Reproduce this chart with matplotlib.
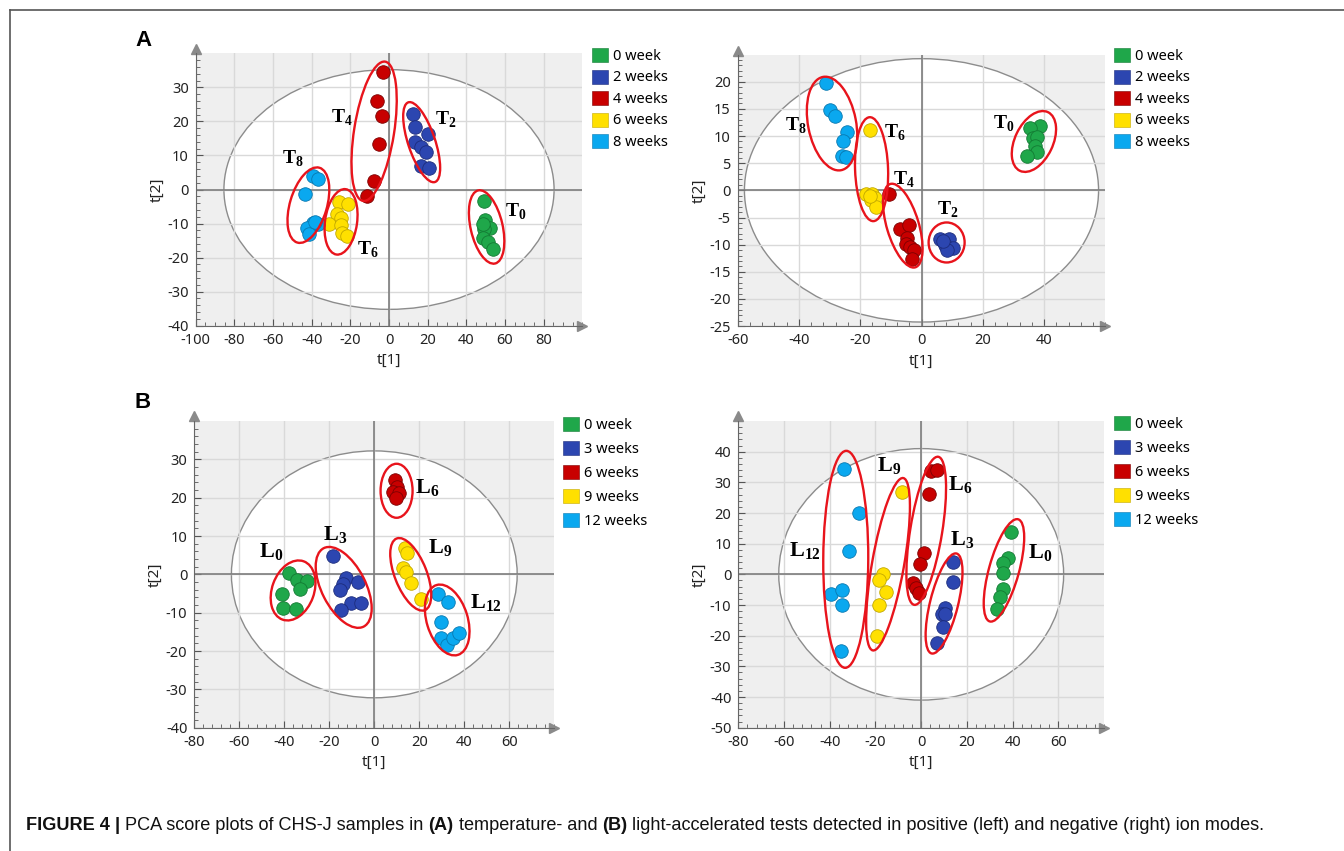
# PCA score plots, temperature (A) and light (B) accelerated tests
# values read off the SIMCA screenshots by eye, so they are approximate

import numpy as np
import matplotlib
matplotlib.use("Agg")
import matplotlib.pyplot as plt
import matplotlib.transforms as mtransforms
from matplotlib.patches import Ellipse, Patch
from matplotlib.ticker import AutoMinorLocator

plt.rcParams['axes.unicode_minus'] = False
plt.rcParams['font.family'] = ['Noto Sans', 'DejaVu Sans']
plt.rcParams['mathtext.fontset'] = 'custom'
plt.rcParams['mathtext.rm'] = 'Liberation Serif'
plt.rcParams['mathtext.bf'] = 'Liberation Serif:bold'

# group colours (same order as the legend)
colors = ["#1fa74a", "#2c46b0", "#c80000", "#ffe000", "#0aa8ef"]
edge_colors = ["#137a33", "#1c2c7c", "#7c0000", "#c2a800", "#0878b0"]

temp_weeks = ["0 week", "2 weeks", "4 weeks", "6 weeks", "8 weeks"]
light_weeks = ["0 week", "3 weeks", "6 weeks", "9 weeks", "12 weeks"]

# (A) temperature test, positive ion mode
temp_pos_x = [
    [49.1, 49.8, 52.1, 49.3, 48.8, 51.0, 54.0, 48.4],
    [12.6, 13.6, 20.0, 13.6, 16.4, 19.3, 16.4, 20.7],
    [-3.3, -6.0, -3.8, -5.2, -7.6, -11.6],
    [-25.9, -21.4, -27.1, -24.8, -30.9, -25.0, -24.5, -21.6],
    [-39.5, -36.9, -43.3, -36.9, -39.5, -42.2, -41.2, -38.3],
]
temp_pos_y = [
    [-3.4, -8.9, -11.3, -11.7, -14.3, -15.5, -17.5, -10.1],
    [22.1, 18.4, 16.4, 13.9, 12.6, 11.1, 7.0, 6.3],
    [34.4, 26.1, 21.7, 13.5, 2.5, -1.8],
    [-3.6, -4.3, -7.1, -8.5, -10.1, -10.3, -12.7, -13.8],
    [4.1, 3.1, -1.4, -10.1, -9.9, -11.4, -13.1, -9.6],
]

# (A) temperature test, negative ion mode
temp_neg_x = [
    [38.8, 35.4, 36.5, 37.8, 37.2, 37.6, 34.3],
    [6.0, 9.1, 7.6, 10.2, 8.2, 7.1],
    [-10.6, -7.0, -4.0, -4.6, -5.1, -3.7, -2.5, -3.1],
    [-16.7, -18.0, -16.0, -16.6, -15.1, -15.0, -16.8],
    [-31.3, -29.9, -28.2, -24.3, -25.5, -26.1, -24.6],
]
temp_neg_y = [
    [11.8, 11.4, 9.6, 9.8, 8.2, 7.1, 6.3],
    [-9.0, -9.0, -10.1, -10.6, -10.9, -9.3],
    [-0.7, -7.1, -6.4, -8.8, -9.9, -10.4, -11.0, -12.6],
    [11.1, -0.7, -0.6, -1.8, -1.5, -3.0, -1.0],
    [19.7, 14.8, 13.7, 10.7, 9.1, 6.4, 6.1],
]

# (B) light test, positive ion mode
light_pos_x = [
    [-37.8, -34.5, -29.8, -33.0, -41.0, -40.4, -35.0],
    [-18.2, -12.6, -13.8, -15.3, -7.1, -10.4, -5.9, -14.8],
    [9.2, 9.9, 8.4, 11.1, 9.6],
    [13.6, 14.7, 12.6, 14.1, 16.1, 20.7],
    [28.3, 32.9, 29.5, 29.5, 32.1, 34.8, 37.6],
]
light_pos_y = [
    [0.4, -1.5, -1.7, -3.8, -5.0, -8.9, -9.0],
    [4.9, -1.0, -2.5, -4.1, -2.1, -7.6, -7.4, -9.3],
    [24.6, 22.9, 21.6, 21.1, 19.8],
    [6.8, 5.5, 1.6, 0.7, -2.2, -6.3],
    [-5.1, -7.3, -12.5, -16.7, -18.4, -16.7, -15.4],
]

# (B) light test, negative ion mode
light_neg_x = [
    [39.1, 37.8, 35.9, 35.6, 35.9, 34.5, 33.0],
    [13.8, 14.0, 10.4, 9.0, 10.4, 9.7, 7.0],
    [4.1, 6.8, 3.3, 1.4, -0.5, -3.4, -2.3, -0.8],
    [-8.3, -16.9, -18.5, -15.6, -18.5, -19.3],
    [-33.8, -27.1, -31.6, -39.6, -34.8, -34.8, -35.2],
]
light_neg_y = [
    [13.9, 5.4, 3.8, 0.5, -4.8, -7.5, -11.4],
    [3.9, -2.6, -11.1, -12.9, -12.9, -17.1, -22.5],
    [33.8, 34.0, 26.1, 6.8, 3.4, -2.7, -4.6, -6.0],
    [26.7, 0.1, -1.8, -5.7, -10.0, -20.0],
    [34.3, 19.9, 7.7, -6.4, -5.1, -10.0, -25.0],
]

# Hotelling T2 ellipse semi axes (t1, t2) for each model
t2_radius = [(85.4, 35.2), (57.8, 24.25), (63.5, 32.2), (62.3, 41.0)]

# hand drawn red rings: name, sub, centre (data), length px, width px, angle, label pos (data)
rings_temp_pos = [
    ("T", "4", -7.7, 17.1, 141, 40, 81, -24.5, 20.9),
    ("T", "2", 16.9, 13.9, 84, 27, 108.5, 29.5, 20.6),
    ("T", "8", -41.7, -4.6, 78, 37, 73.5, -50.0, 9.1),
    ("T", "6", -24.8, -9.5, 66, 32, 82, -11.2, -17.8),
    ("T", "0", 50.5, -11.0, 75, 32, 103, 65.5, -6.5),
]
rings_temp_neg = [
    ("T", "8", -29.2, 12.3, 95, 48, 101, -41.1, 11.9),
    ("T", "6", -16.3, 3.9, 104, 33, 92, -8.6, 10.5),
    ("T", "4", -6.1, -6.5, 87, 32, 106.7, -5.6, 1.9),
    ("T", "2", 8.2, -9.6, 40, 36, 90, 8.7, -3.6),
    ("T", "0", 36.7, 9.0, 65, 38, 64.4, 26.9, 12.2),
]
rings_light_pos = [
    ("L", "0", -36.1, -4.2, 62, 42, 70, -45.9, 5.9),
    ("L", "3", -13.6, -3.4, 88, 44, 117, -17.5, 10.3),
    ("L", "6", 9.9, 21.8, 54, 32, 90, 23.7, 22.4),
    ("L", "9", 16.2, 0.0, 77, 32, 111.5, 29.2, 6.8),
    ("L", "12", 32.4, -11.9, 73, 41, 107, 49.6, -7.4),
]
rings_light_neg = [
    ("L", "12", -33.0, 4.9, 217, 45, 89.7, -50.9, 7.4),
    ("L", "9", -14.5, 3.3, 175, 32, 80, -14.1, 35.1),
    ("L", "6", 2.2, 14.2, 150, 32, 80.8, 17.0, 29.1),
    ("L", "3", 10.0, -9.5, 103, 28, 76, 17.7, 11.2),
    ("L", "0", 36.2, 1.3, 106, 30, 74.5, 52.0, 6.8),
]

W, H = 1344, 851


def px_rect(x0, y0, x1, y1):
    # pixel box (top-left origin) -> figure fraction rect
    return [x0 / W, 1 - y1 / H, (x1 - x0) / W, (y1 - y0) / H]


def draw_panel(fig, rect, xs, ys, labels, radius, rings, xlim, ylim,
               xticks, yticks, xminor, leg_xy, leg_space, ring_font):
    ax = fig.add_axes(px_rect(*rect))
    ax.set_facecolor("#efefef")
    ax.set_xlim(*xlim)
    ax.set_ylim(*ylim)
    ax.set_axisbelow(True)

    # white T2 ellipse with the grid on top of it
    ax.add_patch(Ellipse((0, 0), 2 * radius[0], 2 * radius[1], facecolor="white",
                         edgecolor="#8c8c8c", lw=1.0, zorder=0.2))
    ax.grid(True, color="#d9d9d9", lw=1.0)
    ax.axhline(0, color="#7d7d7d", lw=1.2, zorder=1)
    ax.axvline(0, color="#7d7d7d", lw=1.2, zorder=1)

    for i in range(len(xs)):
        ax.scatter(xs[i], ys[i], s=95, c=colors[i], edgecolors=edge_colors[i],
                   linewidths=0.6, zorder=3)

    for name, sub, cx, cy, length, width, ang, tx, ty in rings:
        trans = fig.dpi_scale_trans + mtransforms.ScaledTranslation(cx, cy, ax.transData)
        ax.add_patch(Ellipse((0, 0), length / fig.dpi, width / fig.dpi, angle=ang,
                             fill=False, edgecolor="#e8141c", lw=1.7,
                             transform=trans, zorder=4, clip_on=False))
        ax.text(tx, ty, r"$\mathbf{%s}_{\mathbf{%s}}$" % (name, sub),
                fontsize=ring_font, ha="center", va="center", zorder=5)

    ax.set_xticks(xticks)
    ax.set_yticks(yticks)
    ax.xaxis.set_minor_locator(AutoMinorLocator(xminor))
    ax.yaxis.set_minor_locator(AutoMinorLocator(5))
    ax.tick_params(which="both", direction="in", color="#555555",
                   labelsize=10.5, labelcolor="#222222", pad=5)
    ax.tick_params(which="major", length=5)
    ax.tick_params(which="minor", length=3)
    for s in ["top", "right"]:
        ax.spines[s].set_visible(False)
    for s in ["left", "bottom"]:
        ax.spines[s].set_color("#666666")
    ax.plot(0, 1.015, marker="^", ms=7, color="#8a8a8a", transform=ax.transAxes,
            clip_on=False)
    ax.plot(1.0, 0, marker=">", ms=7, color="#8a8a8a", transform=ax.transAxes,
            clip_on=False)
    ax.set_xlabel("t[1]", fontsize=11, color="#222222", labelpad=4)
    ax.set_ylabel("t[2]", fontsize=11, color="#222222", labelpad=2)

    handles = [Patch(facecolor=colors[i], edgecolor=edge_colors[i], lw=0.4)
               for i in range(len(labels))]
    ax.legend(handles, labels, loc="upper left",
              bbox_to_anchor=(leg_xy[0] / W, 1 - leg_xy[1] / H),
              bbox_transform=fig.transFigure, frameon=False, fontsize=10.5,
              handlelength=1.1, handleheight=1.1, handletextpad=0.35,
              labelspacing=leg_space, borderpad=0, borderaxespad=0)
    return ax


def make_figure():
    fig = plt.figure(figsize=(W / 100, H / 100), dpi=100)

    draw_panel(fig, (195.7, 53.3, 582.3, 325.7), temp_pos_x, temp_pos_y, temp_weeks,
               t2_radius[0], rings_temp_pos, (-100, 100), (-40, 40),
               np.arange(-100, 81, 20), np.arange(-40, 31, 10), 4,
               (592, 48), 0.38, 14)
    draw_panel(fig, (737.7, 54.6, 1105.3, 326.1), temp_neg_x, temp_neg_y, temp_weeks,
               t2_radius[1], rings_temp_neg, (-60, 60), (-25, 25),
               np.arange(-60, 41, 20), np.arange(-25, 21, 5), 5,
               (1114, 48), 0.38, 14)
    draw_panel(fig, (194.3, 421, 554.3, 727.7), light_pos_x, light_pos_y, light_weeks,
               t2_radius[2], rings_light_pos, (-80, 80), (-40, 40),
               np.arange(-80, 61, 20), np.arange(-40, 31, 10), 5,
               (563, 417), 0.55, 16)
    draw_panel(fig, (738.3, 421, 1104.1, 727.7), light_neg_x, light_neg_y, light_weeks,
               t2_radius[3], rings_light_neg, (-80, 80), (-50, 50),
               np.arange(-80, 61, 20), np.arange(-50, 41, 10), 5,
               (1114, 416), 0.55, 16)

    # panel letters
    fig.text(143 / W, 1 - 40 / H, "A", fontsize=16, fontweight="bold",
             family="Liberation Sans", ha="center", va="center")
    fig.text(143 / W, 1 - 402 / H, "B", fontsize=16, fontweight="bold",
             family="Liberation Sans", ha="center", va="center")

    # frame lines of the figure box
    fig.add_artist(plt.Line2D([10 / W, 10 / W], [0, 1 - 10 / H], color="#555555",
                              lw=1.2, transform=fig.transFigure))
    fig.add_artist(plt.Line2D([10 / W, 1], [1 - 10 / H, 1 - 10 / H], color="#555555",
                              lw=1.2, transform=fig.transFigure))

    # caption, mixed bold / normal pieces placed one after another
    pieces = [("FIGURE 4", "bold"), (" | ", "bold"),
              ("PCA score plots of CHS-J samples in ", "normal"), ("(A)", "bold"),
              (" temperature- and ", "normal"), ("(B)", "bold"),
              (" light-accelerated tests detected in positive (left) and negative "
               "(right) ion modes.", "normal")]
    renderer = fig.canvas.get_renderer()
    # the caption runs from x=26 to about x=1262 in the original
    cap_size = 13.05
    x = 26
    for txt, wt in pieces:
        t = fig.text(x / W, 1 - 826 / H, txt, fontsize=cap_size, fontweight=wt,
                     family="Liberation Sans", ha="left", va="center", color="#111111")
        x += t.get_window_extent(renderer).width

    fig.savefig("out.png", dpi=100)


if __name__ == "__main__":
    make_figure()
